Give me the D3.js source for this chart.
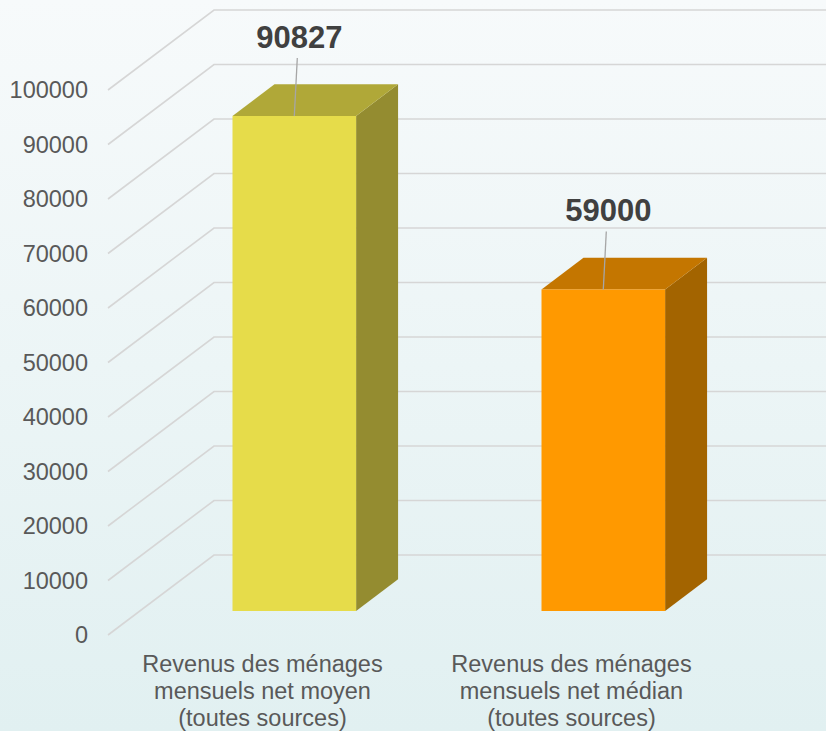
<!DOCTYPE html>
<html>
<head>
<meta charset="utf-8">
<script src="https://cdn.jsdelivr.net/npm/d3@7"></script>
<style>
	html, body { margin: 0; padding: 0; }
	body { width: 826px; height: 731px; overflow: hidden; }
	svg { display: block; font-family: 'Liberation Sans', Arial, sans-serif; }
</style>
</head>
<body>
<div id="chart"></div>
<script>
// chart values
var categories = [
	'Revenus des ménages mensuels net moyen (toutes sources)',
	'Revenus des ménages mensuels net médian (toutes sources)'
];
var categoryLines = [
	['Revenus des ménages', 'mensuels net moyen', '(toutes sources)'],
	['Revenus des ménages', 'mensuels net médian', '(toutes sources)']
];
var values = [90827, 59000];
var tickValues = [0, 10000, 20000, 30000, 40000, 50000, 60000, 70000, 80000, 90000, 100000];
var barColors = [
	{ front: '#e6dc4a', top: '#b0a838', side: '#948c30' },
	{ front: '#ff9900', top: '#c47600', side: '#a36400' }
];

var width = 826;
var height = 731;

// depth vector of the 3d floor
var depthX = 106;
var depthY = -80;

var svg = d3.select('#chart')
	.append('svg')
	.attr('width', width)
	.attr('height', height);

var defs = svg.append('defs');
var grad = defs.append('linearGradient')
	.attr('id', 'bg')
	.attr('x1', 0).attr('y1', 0).attr('x2', 0).attr('y2', 1);
grad.append('stop').attr('offset', '0%').attr('stop-color', '#f7fafb');
grad.append('stop').attr('offset', '100%').attr('stop-color', '#e1f0f1');

svg.append('rect')
	.attr('width', width)
	.attr('height', height)
	.attr('fill', 'url(#bg)');

var x = d3.scaleBand()
	.domain(categories)
	.range([108, 726])
	.padding(0);

var y = d3.scaleLinear()
	.domain([0, 100000])
	.range([635, 90]);

// project a point at a given depth (0 = front, 1 = back wall)
var px = (xv, d) => xv + d * depthX;
var py = (yv, d) => yv + d * depthY;

// gridlines: floor/side diagonal then back wall horizontal
var grid = svg.append('g').attr('class', 'grid');
grid.selectAll('path')
	.data(tickValues)
	.enter()
	.append('path')
	.attr('d', (d) => {
		var p = d3.path();
		p.moveTo(px(108, 0), py(y(d), 0));
		p.lineTo(px(108, 1), py(y(d), 1));
		p.lineTo(width, py(y(d), 1));
		return p.toString();
	})
	.attr('fill', 'none')
	.attr('stroke', '#d6d6d6')
	.attr('stroke-width', 1.6);

// y axis labels
svg.append('g')
	.selectAll('text')
	.data(tickValues)
	.enter()
	.append('text')
	.attr('x', 88)
	.attr('y', (d) => y(d))
	.attr('dy', '0.35em')
	.attr('text-anchor', 'end')
	.attr('font-size', '23.5px')
	.attr('fill', '#595959')
	.text((d) => d);

// bars
var d0 = 0.3;
var d1 = 0.696;
var bars = svg.append('g').attr('class', 'bars')
	.selectAll('g')
	.data(values.map((v, i) => ({ cat: categories[i], value: v, color: barColors[i] })))
	.enter()
	.append('g');

var bx0 = (d) => x(d.cat) + x.bandwidth() * 0.3;
var bx1 = (d) => x(d.cat) + x.bandwidth() * 0.7;

var poly = (pts) => 'M' + pts.map((p) => p.join(',')).join('L') + 'Z';

// side face
bars.append('path')
	.attr('d', (d) => poly([
		[px(bx1(d), d0), py(y(0), d0)],
		[px(bx1(d), d1), py(y(0), d1)],
		[px(bx1(d), d1), py(y(d.value), d1)],
		[px(bx1(d), d0), py(y(d.value), d0)]
	]))
	.attr('fill', (d) => d.color.side);

// top face
bars.append('path')
	.attr('d', (d) => poly([
		[px(bx0(d), d0), py(y(d.value), d0)],
		[px(bx1(d), d0), py(y(d.value), d0)],
		[px(bx1(d), d1), py(y(d.value), d1)],
		[px(bx0(d), d1), py(y(d.value), d1)]
	]))
	.attr('fill', (d) => d.color.top);

// front face
bars.append('rect')
	.attr('x', (d) => px(bx0(d), d0))
	.attr('y', (d) => py(y(d.value), d0))
	.attr('width', x.bandwidth() * 0.4)
	.attr('height', (d) => y(0) - y(d.value))
	.attr('fill', (d) => d.color.front);

// leader lines + value labels
bars.append('line')
	.attr('x1', (d) => px((bx0(d) + bx1(d)) / 2, d0))
	.attr('y1', (d) => py(y(d.value), d0))
	.attr('x2', (d) => px((bx0(d) + bx1(d)) / 2, d0) + 3)
	.attr('y2', (d) => py(y(d.value), d0) - 58)
	.attr('stroke', '#a6a6a6')
	.attr('stroke-width', 1.3);

bars.append('text')
	.attr('x', (d) => px((bx0(d) + bx1(d)) / 2, d0) + 5)
	.attr('y', (d) => py(y(d.value), d0) - 68)
	.attr('text-anchor', 'middle')
	.attr('font-size', '31px')
	.attr('font-weight', 'bold')
	.attr('fill', '#404040')
	.text((d) => d.value);

// category labels
var catLabels = svg.append('g')
	.selectAll('text')
	.data(categories)
	.enter()
	.append('text')
	.attr('text-anchor', 'middle')
	.attr('font-size', '23.5px')
	.attr('fill', '#595959');

catLabels.selectAll('tspan')
	.data((d, i) => categoryLines[i].map((line) => ({ cat: d, line: line })))
	.enter()
	.append('tspan')
	.attr('x', (d) => x(d.cat) + x.bandwidth() / 2)
	.attr('y', (d, i) => 672 + i * 27)
	.text((d) => d.line);
</script>
</body>
</html>
